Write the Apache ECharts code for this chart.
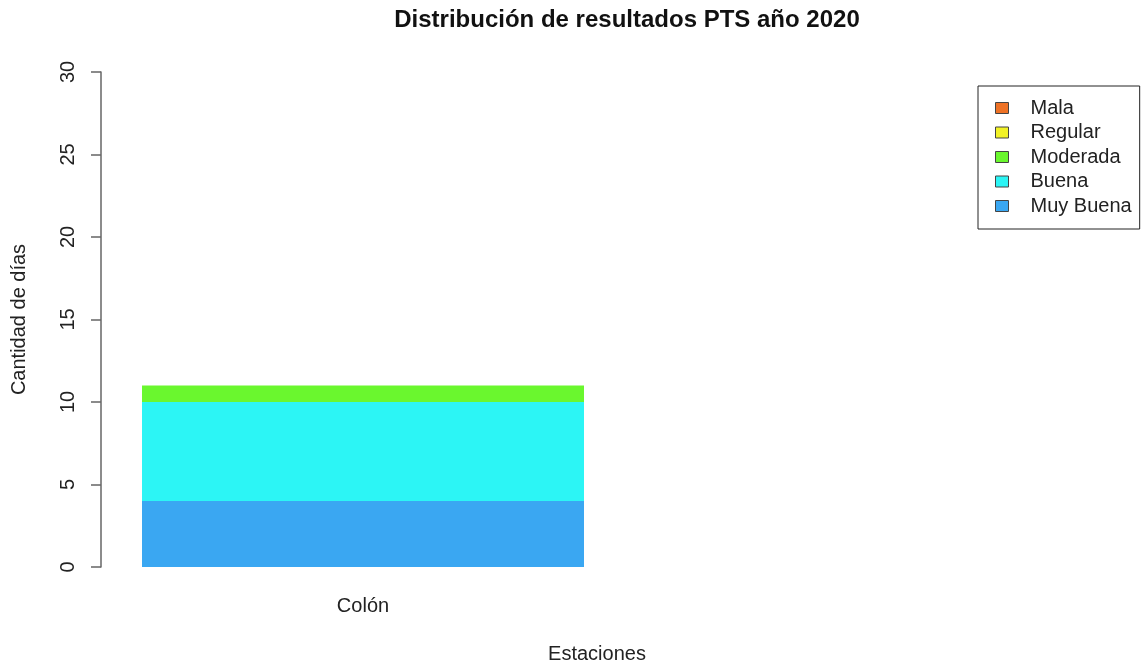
<!DOCTYPE html>
<html>
<head>
<meta charset="utf-8">
<script src="https://cdn.jsdelivr.net/npm/echarts@6/dist/echarts.min.js"></script>
<style>
  html, body { margin: 0; padding: 0; background: #fff; }
  #chart { width: 1141px; height: 666px; }
</style>
</head>
<body>
<div id="chart"></div>
<script>
  // datos
  var estaciones = ['Colón'];
  var categorias = ['Mala', 'Regular', 'Moderada', 'Buena', 'Muy Buena'];
  var colores = ['#EE7226', '#F2F226', '#6AF72E', '#2CF5F5', '#3AA7F2'];
  var muyBuena = [4];
  var buena = [6];
  var moderada = [1];
  var regular = [0];
  var mala = [0];
  var yTicks = [0, 5, 10, 15, 20, 25, 30];

  var fuente = 'Liberation Sans, Arial, sans-serif';
  var chart = echarts.init(document.getElementById('chart'));

  // orden de apilado: de abajo hacia arriba
  var valores = {
    'Muy Buena': muyBuena,
    'Buena': buena,
    'Moderada': moderada,
    'Regular': regular,
    'Mala': mala
  };
  var orden = ['Muy Buena', 'Buena', 'Moderada', 'Regular', 'Mala'];
  var series = orden.map(function (nombre) {
    return {
      name: nombre,
      type: 'bar',
      stack: 'total',
      barWidth: 442,
      data: valores[nombre],
      itemStyle: { color: colores[categorias.indexOf(nombre)] },
      emphasis: { disabled: true }
    };
  });

  chart.setOption({
    animation: false,
    textStyle: { fontFamily: fuente },
    grid: { left: 101, top: 72, width: 524, height: 495 },
    legend: {
      data: categorias,
      orient: 'vertical',
      left: 978,
      top: 86,
      padding: [12, 8, 13, 17],
      itemGap: 4.5,
      itemWidth: 13,
      itemHeight: 11,
      borderColor: '#222',
      borderWidth: 1,
      selectedMode: false,
      icon: 'rect',
      itemStyle: { borderColor: '#444', borderWidth: 1 },
      textStyle: { fontSize: 20, color: '#222', fontFamily: fuente, padding: [0, 0, 0, 17] }
    },
    xAxis: {
      type: 'category',
      data: estaciones,
      axisLine: { show: false },
      axisTick: { show: false },
      axisLabel: { fontSize: 20, color: '#222', margin: 29 }
    },
    yAxis: {
      type: 'value',
      min: yTicks[0],
      max: yTicks[yTicks.length - 1],
      interval: 5,
      splitLine: { show: false },
      axisLine: { show: true, lineStyle: { color: '#666', width: 1.5 } },
      axisTick: { show: true, length: 10, lineStyle: { color: '#666', width: 1.5 } },
      axisLabel: { rotate: 90, fontSize: 20, color: '#222', margin: 23 },
      name: 'Cantidad de días',
      nameLocation: 'middle',
      nameRotate: 90,
      nameGap: 72,
      nameTextStyle: { fontSize: 20, color: '#222' }
    },
    graphic: [
      {
        type: 'text',
        x: 627, y: 20,
        style: {
          text: 'Distribución de resultados PTS año 2020',
          font: 'bold 24px ' + fuente,
          fill: '#111',
          textAlign: 'center',
          textVerticalAlign: 'middle'
        }
      },
      {
        type: 'text',
        x: 597, y: 654,
        style: {
          text: 'Estaciones',
          font: '20px ' + fuente,
          fill: '#222',
          textAlign: 'center',
          textVerticalAlign: 'middle'
        }
      }
    ],
    series: series
  });
</script>
</body>
</html>
